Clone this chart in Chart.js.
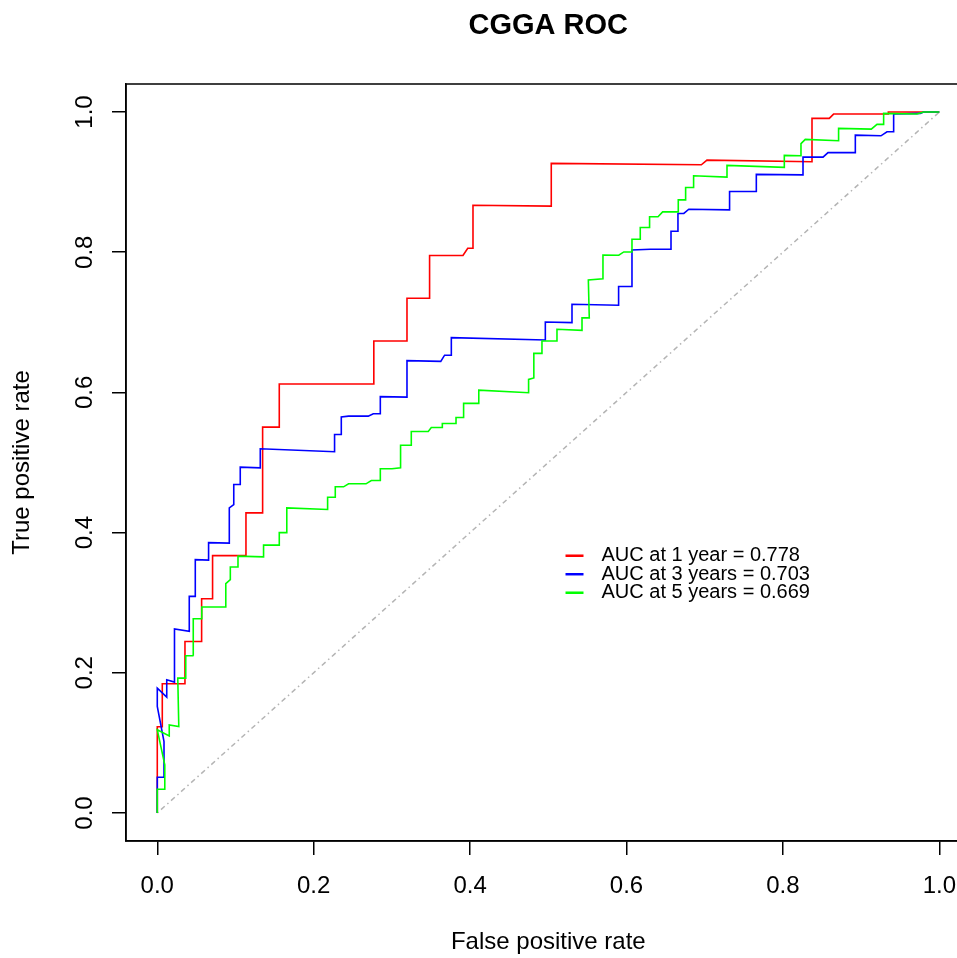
<!DOCTYPE html>
<html>
<head>
<meta charset="utf-8">
<title>CGGA ROC</title>
<script src="https://cdn.jsdelivr.net/npm/chart.js@4.4.0/dist/chart.umd.min.js"></script>
<style>
    html, body { margin: 0; padding: 0; background: #fff; overflow: hidden; }
    canvas { display: block; }
</style>
</head>
<body>
<canvas id="rocChart" width="973" height="958"></canvas>
<script>
// ROC data (false positive rate / true positive rate)
const tickValues = [0, 0.2, 0.4, 0.6, 0.8, 1.0];

const fpr1 = [0, 0, 0.0064, 0.0064, 0.0354, 0.0354, 0.0567, 0.0567, 0.0707, 0.0707,
    0.1134, 0.1134, 0.1347, 0.1347, 0.156, 0.156, 0.2769, 0.2769, 0.3193, 0.3193,
    0.3482, 0.3482, 0.3909, 0.397, 0.4037, 0.4037, 0.5038, 0.5038, 0.6957, 0.7029,
    0.8372, 0.8372, 0.8593, 0.8648, 0.9348, 0.9348, 1];
const tpr1 = [0, 0.1229, 0.1229, 0.1843, 0.1843, 0.2447, 0.2447, 0.3057, 0.3057, 0.3671,
    0.3671, 0.4281, 0.4281, 0.5504, 0.5504, 0.6119, 0.6119, 0.6733, 0.6733, 0.7343,
    0.7343, 0.7953, 0.7953, 0.8057, 0.8057, 0.8671, 0.8657, 0.9267, 0.9247, 0.9314,
    0.929, 0.991, 0.991, 0.9971, 0.9971, 1, 1];

const fpr3 = [0, 0, 0.0086, 0.0086, 0, 0, 0.0121, 0.0121, 0.022, 0.022,
    0.0409, 0.0409, 0.0486, 0.0486, 0.0656, 0.0656, 0.0921, 0.0921, 0.0978, 0.0978,
    0.1061, 0.1061, 0.1317, 0.1317, 0.2267, 0.2267, 0.2353, 0.2353, 0.2446, 0.2698,
    0.2762, 0.2852, 0.2852, 0.3193, 0.3193, 0.3625, 0.3674, 0.376, 0.376, 0.4962,
    0.4962, 0.5303, 0.5303, 0.5899, 0.5899, 0.607, 0.607, 0.6304, 0.6569, 0.6569,
    0.6658, 0.6658, 0.6733, 0.6797, 0.7318, 0.7318, 0.766, 0.766, 0.8257, 0.8257,
    0.8513, 0.8577, 0.8926, 0.8926, 0.9254, 0.9331, 0.9416, 0.9416, 0.9757, 0.9799, 1];
const tpr3 = [0, 0.051, 0.051, 0.1019, 0.1519, 0.1781, 0.1653, 0.19, 0.1867, 0.2624,
    0.2593, 0.309, 0.309, 0.3614, 0.3607, 0.3857, 0.385, 0.4353, 0.44, 0.4686,
    0.4686, 0.4933, 0.4924, 0.5196, 0.5153, 0.54, 0.54, 0.565, 0.5661, 0.5661,
    0.5696, 0.5696, 0.5939, 0.5933, 0.6454, 0.6443, 0.6531, 0.6531, 0.6781, 0.6747,
    0.7004, 0.6996, 0.7257, 0.7243, 0.751, 0.751, 0.8033, 0.8043, 0.8043, 0.83,
    0.83, 0.8553, 0.8553, 0.8614, 0.8604, 0.8867, 0.8867, 0.911, 0.9104, 0.9357,
    0.9357, 0.9421, 0.9421, 0.9671, 0.9661, 0.9719, 0.9719, 0.9971, 0.9981, 1, 1];

const fpr5 = [0, 0, 0.0096, 0.0096, 0, 0.0153, 0.0153, 0.0275, 0.0262, 0.0364,
    0.0364, 0.0464, 0.046, 0.0563, 0.0569, 0.0876, 0.0876, 0.0934, 0.0934, 0.1032,
    0.1032, 0.1359, 0.1359, 0.156, 0.156, 0.1656, 0.1656, 0.2178, 0.2178, 0.2276,
    0.2276, 0.2382, 0.2446, 0.2669, 0.2737, 0.2852, 0.2852, 0.3001, 0.3111, 0.3111,
    0.3248, 0.3248, 0.3465, 0.3504, 0.3645, 0.3645, 0.382, 0.382, 0.3917, 0.3917,
    0.4111, 0.4111, 0.4748, 0.4748, 0.4815, 0.4815, 0.4919, 0.4919, 0.5111, 0.5111,
    0.5431, 0.5431, 0.5524, 0.5512, 0.5699, 0.5699, 0.5901, 0.5965, 0.607, 0.607,
    0.6176, 0.6176, 0.6295, 0.6295, 0.6403, 0.6462, 0.6662, 0.6662, 0.6756, 0.6756,
    0.6858, 0.6858, 0.7285, 0.7285, 0.8018, 0.8018, 0.8231, 0.8231, 0.8286, 0.8712,
    0.8712, 0.913, 0.9203, 0.9288, 0.9288, 0.9715, 0.9799, 1];
const tpr5 = [0, 0.0339, 0.0339, 0.0686, 0.1186, 0.11, 0.1257, 0.1233, 0.1924, 0.1924,
    0.2243, 0.2243, 0.2771, 0.2771, 0.2939, 0.2939, 0.3271, 0.3329, 0.351, 0.351,
    0.3664, 0.3653, 0.3821, 0.3821, 0.4, 0.4, 0.4353, 0.4329, 0.4504, 0.4504,
    0.4653, 0.4653, 0.4696, 0.4696, 0.4743, 0.4743, 0.491, 0.491, 0.4924, 0.5247,
    0.5247, 0.5443, 0.5443, 0.55, 0.55, 0.5557, 0.5557, 0.5643, 0.5643, 0.5843,
    0.5843, 0.6033, 0.5996, 0.6186, 0.6207, 0.6557, 0.6557, 0.6733, 0.6733, 0.69,
    0.6886, 0.7064, 0.7064, 0.7604, 0.7621, 0.7961, 0.7957, 0.8004, 0.8004, 0.8186,
    0.8186, 0.8353, 0.8353, 0.8507, 0.8507, 0.8576, 0.8576, 0.8747, 0.8747, 0.8924,
    0.8924, 0.909, 0.9071, 0.9239, 0.921, 0.9381, 0.9376, 0.955, 0.961, 0.959,
    0.9767, 0.9757, 0.9824, 0.9824, 0.9981, 0.9971, 1, 1];

const diagX = [0, 1];
const diagY = [0, 1];

const curveLabels = ['AUC at 1 year = 0.778', 'AUC at 3 years = 0.703', 'AUC at 5 years = 0.669'];
const curveColors = ['#ff0000', '#0000ff', '#00ff00'];

const FONT = "'Liberation Sans', Arial, Helvetica, sans-serif";

function toPoints(xs, ys) {
    return xs.map((x, i) => ({ x: x, y: ys[i] }));
}

// Title, frame and legend drawn in the R base-graphics style
const rocDecor = {
    id: 'rocDecor',
    beforeDraw(chart) {
        const ctx = chart.ctx;
        ctx.save();
        ctx.fillStyle = '#ffffff';
        ctx.fillRect(0, 0, chart.width, chart.height);
        ctx.restore();
    },
    afterDraw(chart) {
        const ctx = chart.ctx;
        const area = chart.chartArea;
        const xs = chart.scales.x;
        const ys = chart.scales.y;

        ctx.save();
        // box
        ctx.strokeStyle = '#000';
        ctx.lineWidth = 1.5;
        ctx.strokeRect(area.left, area.top, area.right - area.left, area.bottom - area.top);

        // main title
        ctx.fillStyle = '#000';
        ctx.font = 'bold 29px ' + FONT;
        ctx.textAlign = 'center';
        ctx.textBaseline = 'middle';
        ctx.fillText('CGGA ROC', (area.left + area.right) / 2, 26);

        // legend (no box)
        const lx = xs.getPixelForValue(0.522);
        const ly = ys.getPixelForValue(0.367);
        ctx.font = '20px ' + FONT;
        ctx.textAlign = 'left';
        curveLabels.forEach((label, i) => {
            const y = ly + i * 18.5;
            ctx.strokeStyle = curveColors[i];
            ctx.lineWidth = 2.5;
            ctx.beginPath();
            ctx.moveTo(lx, y);
            ctx.lineTo(lx + 18, y);
            ctx.stroke();
            ctx.fillStyle = '#000';
            ctx.fillText(label, lx + 36, y);
        });
        ctx.restore();
    }
};

document.addEventListener('DOMContentLoaded', function () {
    const ctx = document.getElementById('rocChart').getContext('2d');

    const lineStyle = {
        fill: false,
        tension: 0,
        pointRadius: 0,
        pointHoverRadius: 0,
        borderWidth: 1.6
    };

    new Chart(ctx, {
        type: 'line',
        data: {
            datasets: [
                Object.assign({ label: curveLabels[0], data: toPoints(fpr1, tpr1), borderColor: curveColors[0], order: 3 }, lineStyle),
                Object.assign({ label: curveLabels[1], data: toPoints(fpr3, tpr3), borderColor: curveColors[1], order: 2 }, lineStyle),
                Object.assign({ label: curveLabels[2], data: toPoints(fpr5, tpr5), borderColor: curveColors[2], order: 1 }, lineStyle),
                {
                    label: 'reference',
                    data: toPoints(diagX, diagY),
                    borderColor: '#b4b4b4',
                    borderWidth: 1.5,
                    borderDash: [1.5, 3.5, 5, 3.5],
                    pointRadius: 0,
                    fill: false,
                    order: 4
                }
            ]
        },
        options: {
            responsive: false,
            animation: false,
            devicePixelRatio: 1,
            layout: {
                padding: { top: 84, left: 0, right: 0, bottom: 0 }
            },
            plugins: {
                legend: { display: false },
                title: { display: false },
                tooltip: { enabled: false }
            },
            scales: {
                x: {
                    type: 'linear',
                    min: -0.04,
                    max: 1.04,
                    afterBuildTicks: (axis) => { axis.ticks = tickValues.map(v => ({ value: v })); },
                    afterFit: (axis) => { axis.height = 117; },
                    ticks: {
                        autoSkip: false,
                        maxRotation: 0,
                        padding: 17,
                        color: '#000',
                        font: { size: 24, family: FONT },
                        callback: (v) => Number(v).toFixed(1)
                    },
                    grid: {
                        drawOnChartArea: false,
                        drawTicks: true,
                        tickLength: 14,
                        color: '#000',
                        lineWidth: 1.5
                    },
                    border: { display: true, color: '#000', width: 1.5 },
                    title: {
                        display: true,
                        text: 'False positive rate',
                        color: '#000',
                        font: { size: 24, family: FONT },
                        padding: { top: 0, bottom: 1 }
                    }
                },
                y: {
                    type: 'linear',
                    min: -0.04,
                    max: 1.04,
                    afterBuildTicks: (axis) => { axis.ticks = tickValues.map(v => ({ value: v })); },
                    afterFit: (axis) => { axis.width = 126; },
                    ticks: {
                        autoSkip: false,
                        minRotation: 90,
                        maxRotation: 90,
                        crossAlign: 'center',
                        padding: 10,
                        color: '#000',
                        font: { size: 24, family: FONT },
                        callback: (v) => Number(v).toFixed(1)
                    },
                    grid: {
                        drawOnChartArea: false,
                        drawTicks: true,
                        tickLength: 14,
                        color: '#000',
                        lineWidth: 1.5
                    },
                    border: { display: true, color: '#000', width: 1.5 },
                    title: {
                        display: true,
                        text: 'True positive rate',
                        color: '#000',
                        font: { size: 24, family: FONT },
                        padding: { top: 8, bottom: 0 }
                    }
                }
            }
        },
        plugins: [rocDecor]
    });
});
</script>
</body>
</html>
